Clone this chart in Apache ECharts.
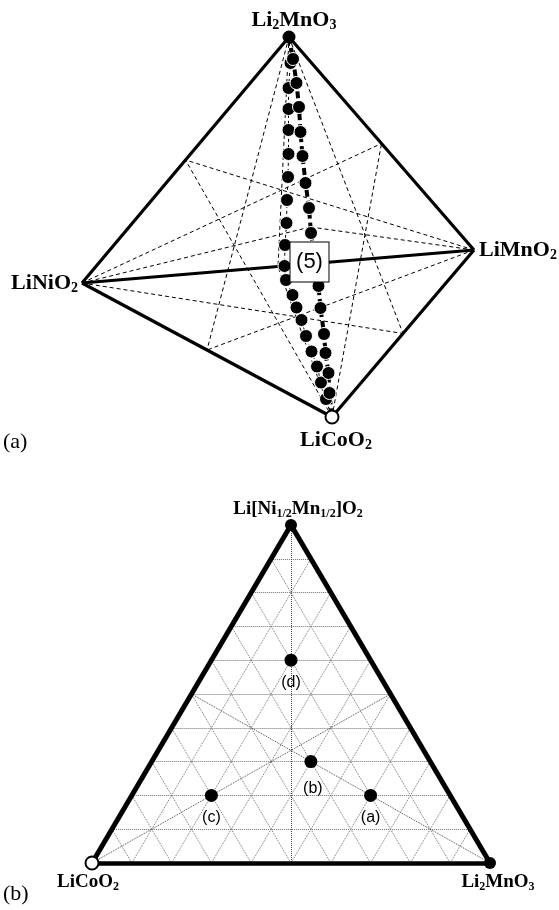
<!DOCTYPE html>
<html><head><meta charset="utf-8">
<script src="https://cdn.jsdelivr.net/npm/echarts@6/dist/echarts.min.js"></script>
<style>html,body{margin:0;padding:0;background:#fff}#c{width:559px;height:910px}</style>
</head><body><div id="c"></div>
<script>
// ===== (a) tetrahedron, projected coordinates =====
const tetraLabels = ['Li{s|2}MnO{s|3}', 'LiNiO{s|2}', 'LiMnO{s|2}', 'LiCoO{s|2}'];
const tetraX = [289, 82, 474, 332];
const tetraY = [37, 283, 250, 417];
// path 1 (thin dashed, via Li[Ni1/2Mn1/2]O2)
const chainLeftX = [290.5, 288.5, 288.5, 288.5, 288.5, 288, 287, 286.5, 285, 284.5, 286, 292.5, 296.5, 301.5, 306, 311.5, 317, 321, 326];
const chainLeftY = [63, 88, 109, 130, 154, 177, 200, 223, 245, 266, 280, 295, 307.5, 320, 336, 351.5, 366.5, 382.5, 399];
// path 2 (thick dashed, Li2MnO3 - LiCoO2)
const chainRightX = [293, 296.5, 299, 300.5, 302.5, 305.5, 309, 311, 318.5, 320.5, 324, 325.5, 328.5, 329.5];
const chainRightY = [59, 83, 107, 132, 156, 183, 208, 233, 286, 308, 334, 353, 373, 393];
const planeTag = '(5)';
const planeTagX = 309.5, planeTagY = 262;

// ===== (b) ternary: Li[Ni1/2Mn1/2]O2 - LiCoO2 - Li2MnO3 =====
const sampleNames = ['(a)', '(b)', '(c)', '(d)'];
const sampleNiMn = [0.2, 0.3, 0.2, 0.6];
const sampleCo = [0.2, 0.3, 0.6, 0.2];
const sampleLi2MnO3 = [0.6, 0.4, 0.2, 0.2];
const gridTicks = [0.1, 0.2, 0.3, 0.4, 0.5, 0.6, 0.7, 0.8, 0.9];

// ---------- helpers ----------
const T = (nimn, co, mn) => [mn + nimn / 2, nimn];   // ternary -> cartesian (grid 1)
const P = i => [tetraX[i], tetraY[i]];
const mid = (a, b) => [(tetraX[a] + tetraX[b]) / 2, (tetraY[a] + tetraY[b]) / 2];

const edges = [[0, 1], [0, 2], [1, 3], [2, 3], [1, 2]];
const faces = [[0, 1, 3], [0, 2, 3], [0, 1, 2], [1, 2, 3]];
const medians = [];
faces.forEach(f => {
  for (let k = 0; k < 3; k++) {
    const v = f[k], a = f[(k + 1) % 3], b = f[(k + 2) % 3];
    medians.push({ coords: [P(v), mid(a, b)] });
  }
});
const leftPath = [P(0)].concat(chainLeftX.map((x, i) => [x, chainLeftY[i]]), [P(3)]);
const rightPath = [P(0)].concat(chainRightX.map((x, i) => [x, chainRightY[i]]), [P(3)]);

const tGrid = [];
gridTicks.forEach(t => {
  tGrid.push({ coords: [[t / 2, t], [1 - t / 2, t]] });
  tGrid.push({ coords: [[t, 0], [t + (1 - t) / 2, 1 - t]] });
  tGrid.push({ coords: [[1 - t, 0], [(1 - t) / 2, 1 - t]] });
});
const tMedians = [
  { coords: [T(0, 1, 0), T(0.5, 0, 0.5)] },
  { coords: [T(0, 0, 1), T(0.5, 0.5, 0)] },
  { coords: [T(1, 0, 0), T(0, 0.5, 0.5)] }
];

const serif = 'Liberation Serif, Times New Roman, serif';
const sans = 'Liberation Sans, Arial, sans-serif';
const noBorder = { textBorderWidth: 0, textBorderColor: 'transparent', textShadowBlur: 0 };
const richBig = {
  b: Object.assign({ fontFamily: serif, fontWeight: 'bold', fontSize: 22, lineHeight: 24, color: '#000' }, noBorder),
  s: Object.assign({ fontFamily: serif, fontWeight: 'bold', fontSize: 14, lineHeight: 11, verticalAlign: 'bottom', color: '#000' }, noBorder)
};
const richSmall = {
  b: Object.assign({ fontFamily: serif, fontWeight: 'bold', fontSize: 19, lineHeight: 21, color: '#000' }, noBorder),
  s: Object.assign({ fontFamily: serif, fontWeight: 'bold', fontSize: 12, lineHeight: 9, verticalAlign: 'bottom', color: '#000' }, noBorder)
};
const wrap = s => s.split(/(\{s\|[^}]*\})/).filter(x => x).map(x => x.startsWith('{s|') ? x : '{b|' + x + '}').join('');

const tetraLabelPos = [
  { position: 'inside', offset: [5, -17] },
  { position: 'left', distance: 4 },
  { position: 'right', distance: 5 },
  { position: 'inside', offset: [4, 23] }
];

const chart = echarts.init(document.getElementById('c'), null, { renderer: 'canvas' });
const ax = (i, min, max, inv) => ({ gridIndex: i, type: 'value', min, max, inverse: !!inv, show: false });
const lab = o => Object.assign({ show: true, color: '#000', opacity: 1 }, noBorder, o);

const option = {
  animation: false,
  backgroundColor: '#fff',
  title: [
    { text: '(a)', left: 3, top: 431, padding: 0, textStyle: { fontFamily: serif, fontWeight: 'normal', fontSize: 22, color: '#000' } },
    { text: '(b)', left: 3, top: 883, padding: 0, textStyle: { fontFamily: serif, fontWeight: 'normal', fontSize: 22, color: '#000' } }
  ],
  grid: [
    { left: 0, top: 0, width: 559, height: 455 },
    { left: 92, top: 525, width: 398, height: 338 }
  ],
  xAxis: [ax(0, 0, 559), ax(1, 0, 1)],
  yAxis: [ax(0, 0, 455, true), ax(1, 0, 1)],
  series: [
    // ----- (a) -----
    { type: 'lines', coordinateSystem: 'cartesian2d', xAxisIndex: 0, yAxisIndex: 0, clip: false, z: 1,
      lineStyle: { color: '#000', width: 1, type: [4, 3], opacity: 1 }, data: medians },
    { type: 'lines', coordinateSystem: 'cartesian2d', xAxisIndex: 0, yAxisIndex: 0, clip: false, z: 2,
      lineStyle: { color: '#000', width: 3.2, type: 'solid', opacity: 1 },
      data: edges.map(e => ({ coords: [P(e[0]), P(e[1])] })) },
    { type: 'lines', coordinateSystem: 'cartesian2d', xAxisIndex: 0, yAxisIndex: 0, clip: false, z: 3, polyline: true,
      lineStyle: { color: '#000', width: 1, type: [3, 3], opacity: 1 }, data: [{ coords: leftPath }] },
    { type: 'lines', coordinateSystem: 'cartesian2d', xAxisIndex: 0, yAxisIndex: 0, clip: false, z: 3, polyline: true,
      lineStyle: { color: '#000', width: 4, type: [7, 4], opacity: 1 }, data: [{ coords: rightPath }] },
    { type: 'scatter', xAxisIndex: 0, yAxisIndex: 0, clip: false, z: 4, symbolSize: 13,
      itemStyle: { color: '#000', borderColor: '#fff', borderWidth: 1, opacity: 1 },
      data: chainLeftX.map((x, i) => [x, chainLeftY[i]]).concat(chainRightX.map((x, i) => [x, chainRightY[i]])) },
    { type: 'scatter', xAxisIndex: 0, yAxisIndex: 0, clip: false, z: 5,
      data: tetraX.map((x, i) => ({
        value: [x, tetraY[i]],
        symbolSize: i === 0 ? 13 : (i === 3 ? 13 : 0),
        itemStyle: i === 3 ? { color: '#fff', borderColor: '#000', borderWidth: 2, opacity: 1 } : { color: '#000', borderColor: '#000', borderWidth: 0, opacity: 1 },
        label: lab(Object.assign({ formatter: wrap(tetraLabels[i]), rich: richBig }, tetraLabelPos[i]))
      })) },
    { type: 'scatter', xAxisIndex: 0, yAxisIndex: 0, clip: false, z: 10, symbol: 'rect', symbolSize: [39, 40],
      itemStyle: { color: '#fff', borderColor: '#000', borderWidth: 1, opacity: 1 },
      label: lab({ position: 'inside', formatter: planeTag, fontFamily: sans, fontSize: 22 }),
      data: [[planeTagX, planeTagY]] },
    // ----- (b) -----
    { type: 'lines', coordinateSystem: 'cartesian2d', xAxisIndex: 1, yAxisIndex: 1, clip: false, z: 1,
      lineStyle: { color: '#707070', width: 1, type: [1, 1], opacity: 1 }, data: tGrid },
    { type: 'lines', coordinateSystem: 'cartesian2d', xAxisIndex: 1, yAxisIndex: 1, clip: false, z: 1,
      lineStyle: { color: '#444', width: 1, type: [1, 1], opacity: 1 }, data: tMedians },
    { type: 'lines', coordinateSystem: 'cartesian2d', xAxisIndex: 1, yAxisIndex: 1, clip: false, z: 2,
      lineStyle: { color: '#000', width: 5, type: 'solid', opacity: 1 },
      data: [{ coords: [T(0, 1, 0), T(1, 0, 0)] }, { coords: [T(1, 0, 0), T(0, 0, 1)] }] },
    { type: 'lines', coordinateSystem: 'cartesian2d', xAxisIndex: 1, yAxisIndex: 1, clip: false, z: 2,
      lineStyle: { color: '#000', width: 4.5, type: 'solid', opacity: 1 },
      data: [{ coords: [T(0, 1, 0), T(0, 0, 1)] }] },
    { type: 'scatter', xAxisIndex: 1, yAxisIndex: 1, clip: false, z: 5, symbolSize: 13,
      itemStyle: { color: '#000', opacity: 1 },
      data: sampleNames.map((n, i) => ({
        value: T(sampleNiMn[i], sampleCo[i], sampleLi2MnO3[i]),
        label: lab({ position: 'inside', offset: i === 1 ? [2, 27] : [0, 22], formatter: n, fontFamily: sans, fontSize: 16 })
      })) },
    { type: 'scatter', xAxisIndex: 1, yAxisIndex: 1, clip: false, z: 5,
      data: [
        { value: T(0, 1, 0), symbolSize: 13, itemStyle: { color: '#fff', borderColor: '#000', borderWidth: 2, opacity: 1 },
          label: lab({ position: 'inside', offset: [-4, 19], formatter: wrap('LiCoO{s|2}'), rich: richSmall }) },
        { value: T(1, 0, 0), symbolSize: 12, itemStyle: { color: '#000', borderWidth: 0, opacity: 1 },
          label: lab({ position: 'inside', offset: [7, -16], formatter: wrap('Li[Ni{s|1/2}Mn{s|1/2}]O{s|2}'), rich: richSmall }) },
        { value: T(0, 0, 1), symbolSize: 12, itemStyle: { color: '#000', borderWidth: 0, opacity: 1 },
          label: lab({ position: 'inside', offset: [8, 19], formatter: wrap('Li{s|2}MnO{s|3}'), rich: richSmall }) }
      ] }
  ]
};
chart.setOption(option);
</script></body></html>
